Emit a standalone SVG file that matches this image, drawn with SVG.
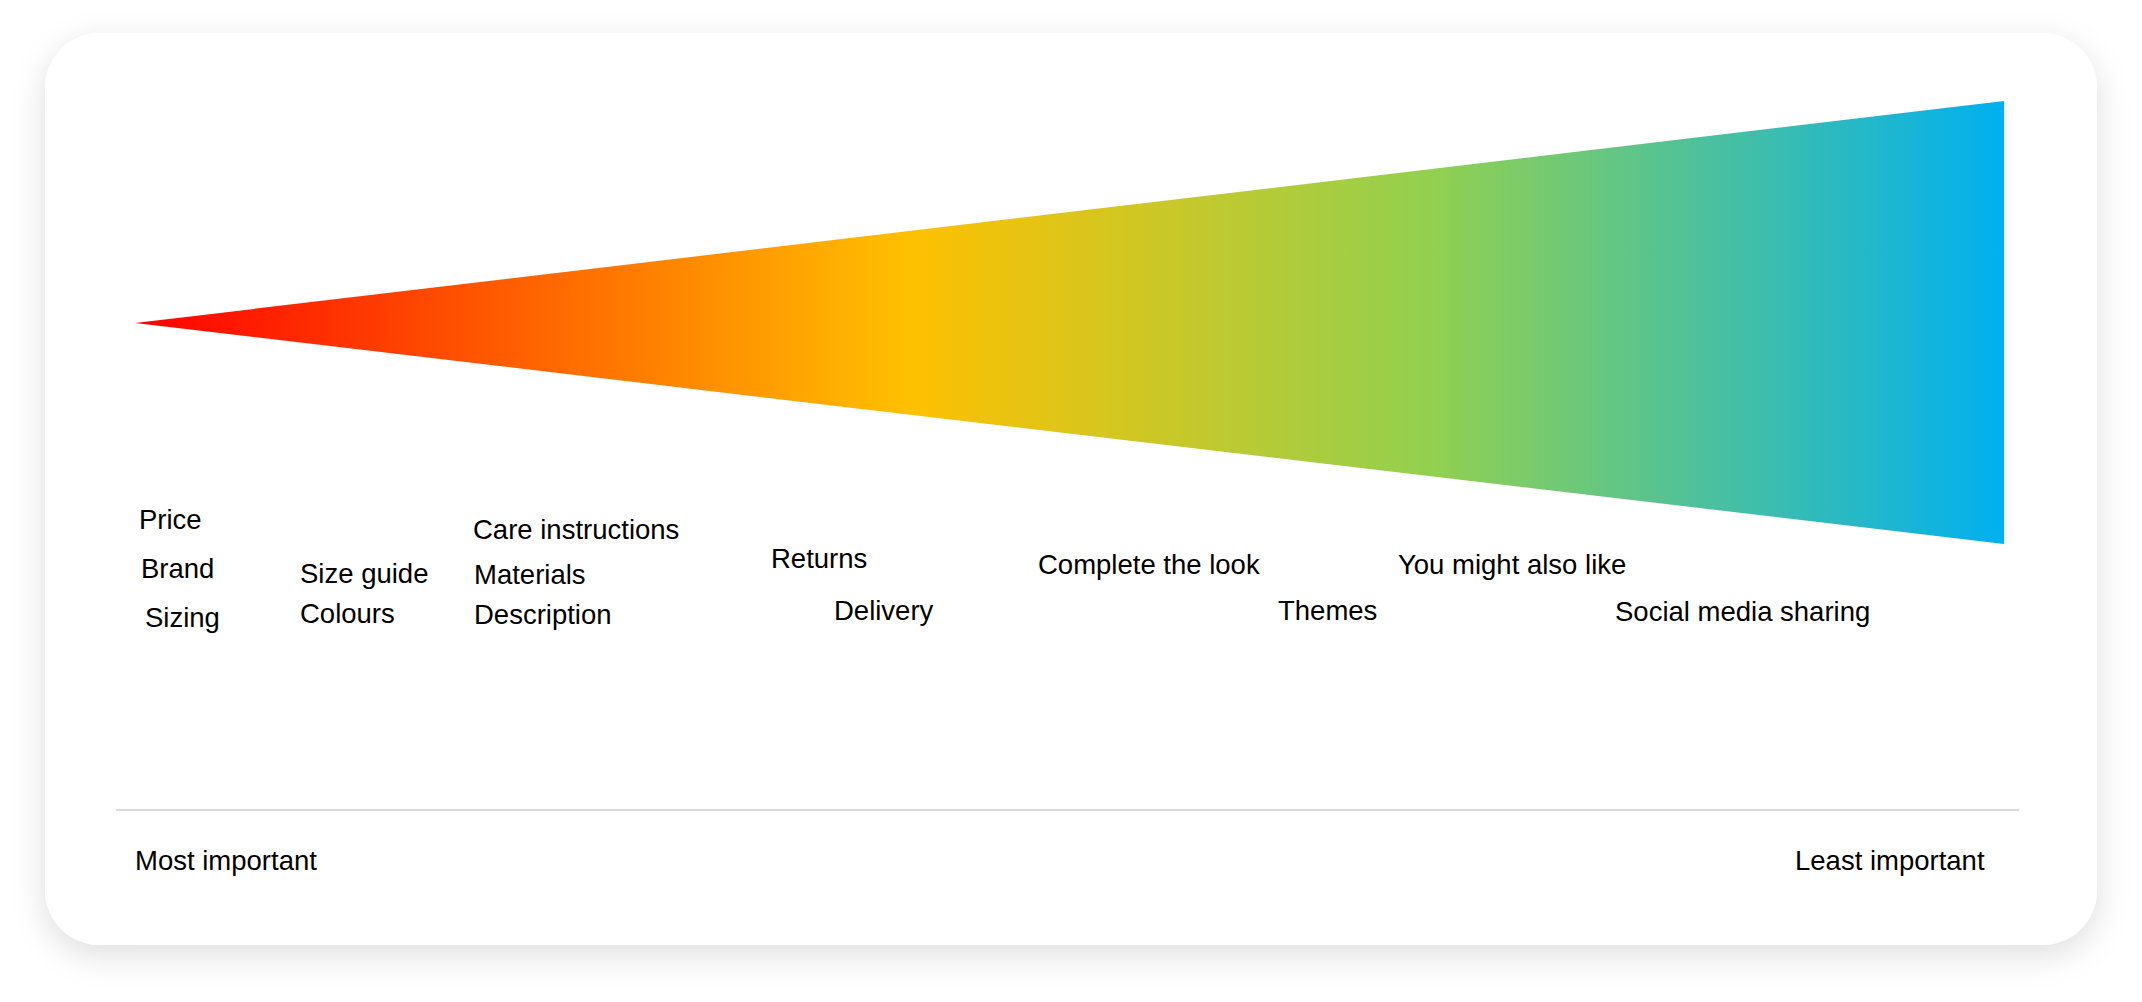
<svg xmlns="http://www.w3.org/2000/svg" width="2142" height="1002" viewBox="0 0 2142 1002">
  <style>
    .lbl { font-family: "Liberation Sans", Arial, sans-serif; font-size: 27.5px; fill: #000000; }
  </style>
  <defs>
    <filter id="shadow" x="-10%" y="-10%" width="120%" height="130%">
      <feDropShadow dx="0" dy="10" stdDeviation="16" flood-color="#000000" flood-opacity="0.13"/>
    </filter>
    <linearGradient id="grad" gradientUnits="userSpaceOnUse" x1="135" y1="0" x2="2004" y2="0">
      <stop offset="0" stop-color="#ff0000"/>
      <stop offset="0.413" stop-color="#ffc000"/>
      <stop offset="0.694" stop-color="#92d050"/>
      <stop offset="1" stop-color="#00b0f0"/>
    </linearGradient>
  </defs>
  <rect width="2142" height="1002" fill="#ffffff"/>
  <g id="card">
    <rect x="45" y="33" width="2052" height="912" rx="55" ry="55" fill="#ffffff" filter="url(#shadow)"/>
  </g>
  <g id="wedge">
    <polygon points="135,323 2004,101 2004,544" fill="url(#grad)"/>
  </g>
  <g id="connectors">
    <line x1="116" y1="810" x2="2019" y2="810" stroke="#d9d9d9" stroke-width="2"/>
  </g>
  <g id="labels">
    <text id="price" class="lbl" x="139" y="529">Price</text>
    <text id="brand" class="lbl" x="141" y="578">Brand</text>
    <text id="sizing" class="lbl" x="145" y="627">Sizing</text>
    <text id="size-guide" class="lbl" x="300" y="583">Size guide</text>
    <text id="colours" class="lbl" x="300" y="623">Colours</text>
    <text id="care" class="lbl" x="473" y="539">Care instructions</text>
    <text id="materials" class="lbl" x="474" y="584">Materials</text>
    <text id="description" class="lbl" x="474" y="624">Description</text>
    <text id="returns" class="lbl" x="771" y="568">Returns</text>
    <text id="delivery" class="lbl" x="834" y="620">Delivery</text>
    <text id="complete" class="lbl" x="1038" y="574">Complete the look</text>
    <text id="themes" class="lbl" x="1278" y="620">Themes</text>
    <text id="ymal" class="lbl" x="1398" y="574">You might also like</text>
    <text id="social" class="lbl" x="1615" y="621">Social media sharing</text>
    <text id="most" class="lbl" x="135" y="870">Most important</text>
    <text id="least" class="lbl" x="1795" y="870">Least important</text>
  </g>
</svg>
